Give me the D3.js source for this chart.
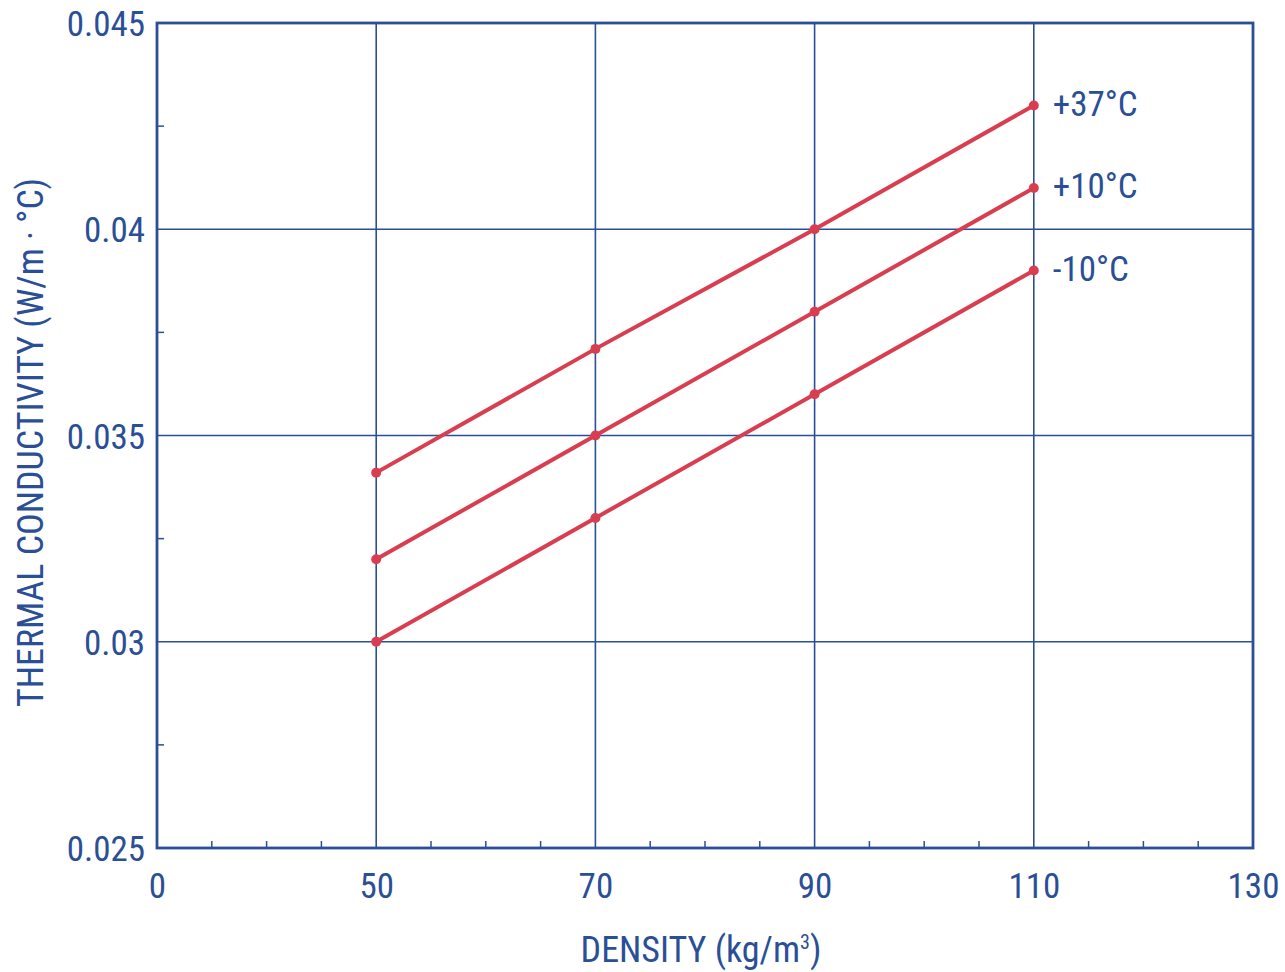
<!DOCTYPE html>
<html>
<head>
<meta charset="utf-8">
<script src="https://cdn.jsdelivr.net/npm/d3@7/dist/d3.min.js"></script>
<style>
  html, body { margin: 0; padding: 0; background: #fff; }
  svg text { font-family: "Liberation Sans Narrow", "Roboto Condensed", "DejaVu Sans Condensed", sans-serif; fill: #2a4f96; }
</style>
</head>
<body>
<svg id="chart" width="1285" height="972"></svg>
<script>
// Density categories (kg/m³) shown on the horizontal axis
const densityTicks = [0, 50, 70, 90, 110, 130];
const densities = [50, 70, 90, 110];

// Thermal conductivity (W/m·°C) for each temperature
const seriesNames = ["+37°C", "+10°C", "-10°C"];
const kPlus37 = [0.0341, 0.0371, 0.0400, 0.0430];
const kPlus10 = [0.0320, 0.0350, 0.0380, 0.0410];
const kMinus10 = [0.0300, 0.0330, 0.0360, 0.0390];

const yTicks = [0.025, 0.03, 0.035, 0.04, 0.045];
const yTickLabels = ["0.025", "0.03", "0.035", "0.04", "0.045"];
const yMinorTicks = [0.0275, 0.0325, 0.0375, 0.0425];

const blue = "#2a4f96";
const red = "#d93e50";

const svg = d3.select("#chart");
const plotLeft = 157, plotRight = 1253, plotTop = 23, plotBottom = 848;

const x = d3.scalePoint().domain(densityTicks).range([plotLeft, plotRight]).padding(0);
const y = d3.scaleLinear().domain([0.025, 0.045]).range([plotBottom, plotTop]);

// Grid lines
const g = svg.append("g");
g.selectAll("line.vgrid").data(densities).join("line")
  .attr("x1", d => x(d)).attr("x2", d => x(d))
  .attr("y1", plotTop).attr("y2", plotBottom)
  .attr("stroke", blue).attr("stroke-width", 1.6);
g.selectAll("line.hgrid").data(yTicks.slice(1, -1)).join("line")
  .attr("x1", plotLeft).attr("x2", plotRight)
  .attr("y1", d => y(d)).attr("y2", d => y(d))
  .attr("stroke", blue).attr("stroke-width", 1.6);

// Minor ticks: quarter steps between neighbouring density ticks
const xMinor = [];
for (let i = 0; i < densityTicks.length - 1; i++) {
  const a = x(densityTicks[i]), b = x(densityTicks[i + 1]);
  for (let k = 1; k < 4; k++) xMinor.push(a + (b - a) * k / 4);
}
g.selectAll("line.xminor").data(xMinor).join("line")
  .attr("x1", d => d).attr("x2", d => d)
  .attr("y1", plotBottom).attr("y2", plotBottom - 7)
  .attr("stroke", blue).attr("stroke-width", 1.5);
g.selectAll("line.yminor").data(yMinorTicks).join("line")
  .attr("x1", plotLeft).attr("x2", plotLeft + 7)
  .attr("y1", d => y(d)).attr("y2", d => y(d))
  .attr("stroke", blue).attr("stroke-width", 1.5);

// Plot frame
svg.append("rect")
  .attr("x", plotLeft).attr("y", plotTop)
  .attr("width", plotRight - plotLeft).attr("height", plotBottom - plotTop)
  .attr("fill", "none").attr("stroke", blue).attr("stroke-width", 2.8);

// Axis tick labels via d3 axes (lines hidden)
const xAxis = svg.append("g")
  .attr("transform", `translate(0,${plotBottom})`)
  .call(d3.axisBottom(x).tickSize(0).tickPadding(0));
xAxis.select(".domain").remove();
xAxis.selectAll("text")
  .attr("y", 50).attr("dy", null)
  .style("font-size", "35px").attr("fill", blue);

const yAxis = svg.append("g")
  .attr("transform", `translate(${plotLeft},0)`)
  .call(d3.axisLeft(y).tickValues(yTicks).tickFormat((d, i) => yTickLabels[i]).tickSize(0).tickPadding(12));
yAxis.select(".domain").remove();
yAxis.selectAll("text")
  .attr("dy", "0.36em")
  .style("font-size", "35px").attr("fill", blue);
yAxis.attr("font-family", null).attr("font-size", null);
xAxis.attr("font-family", null).attr("font-size", null);

// Series lines and points
const series = [kPlus37, kPlus10, kMinus10];
const line = d3.line().x((d, i) => x(densities[i])).y(d => y(d));
series.forEach((vals, si) => {
  svg.append("path").datum(vals)
    .attr("d", line)
    .attr("fill", "none").attr("stroke", red).attr("stroke-width", 4);
  svg.selectAll(null).data(vals).join("circle")
    .attr("cx", (d, i) => x(densities[i])).attr("cy", d => y(d))
    .attr("r", 5).attr("fill", red);
  svg.append("text")
    .attr("x", x(densities[densities.length - 1]) + 19)
    .attr("y", y(vals[vals.length - 1]) + 10)
    .style("font-size", "35px")
    .text(seriesNames[si]);
});

// Axis titles
const xTitle = svg.append("text")
  .attr("x", (plotLeft + plotRight) / 2 - 4).attr("y", 962)
  .attr("text-anchor", "middle")
  .style("font-size", "36px");
xTitle.append("tspan").text("DENSITY (kg/m");
xTitle.append("tspan").text("3").style("font-size", "20px").attr("dy", -13);
xTitle.append("tspan").text(")").attr("dy", 13);

svg.append("text")
  .attr("transform", `translate(43,${(plotTop + plotBottom) / 2 + 7}) rotate(-90)`)
  .attr("text-anchor", "middle")
  .style("font-size", "36px")
  .text("THERMAL CONDUCTIVITY (W/m · °C)");
</script>
</body>
</html>
